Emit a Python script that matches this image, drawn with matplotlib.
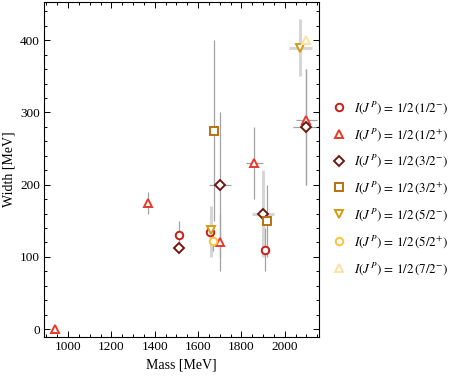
import matplotlib
matplotlib.use("Agg")
import matplotlib.pyplot as plt
from matplotlib.ticker import MultipleLocator

plt.rcParams['font.family'] = ['Liberation Serif', 'DejaVu Serif']
plt.rcParams['mathtext.fontset'] = 'stix'

# ---- data: (mass, width, width_lo, width_hi, mass_err) ----
labels = [r'$I(J^P)\,=\,1/2\,(1/2^{-})$', r'$I(J^P)\,=\,1/2\,(1/2^{+})$',
          r'$I(J^P)\,=\,1/2\,(3/2^{-})$', r'$I(J^P)\,=\,1/2\,(3/2^{+})$',
          r'$I(J^P)\,=\,1/2\,(5/2^{-})$', r'$I(J^P)\,=\,1/2\,(5/2^{+})$',
          r'$I(J^P)\,=\,1/2\,(7/2^{-})$']
colors = ['#c81e1a', '#e83a2c', '#6a1a10', '#b8720f', '#d49b12', '#fbc33c', '#fde2a6']
markers = ['o', '^', 'D', 's', 'v', 'o', '^']

mass = [[1510, 1655, 1910], [939, 1370, 1700, 1860, 2100], [1510, 1700, 1900, 2100],
        [1675, 1920], [1660, 2072], [1668], [2100]]
width = [[130, 135, 110], [0, 175, 120, 230, 290], [112, 200, 160, 280],
         [275, 150], [137, 389], [122], [400]]
w_lo = [[110, 125, 80], [0, 160, 80, 180, 200], [112, 100, 100, 200],
        [150, 100], [100, 350], [108], [400]]
w_hi = [[150, 150, 140], [0, 190, 160, 280, 360], [112, 300, 220, 360],
        [400, 200], [170, 430], [135], [400]]
m_err = [[0, 0, 0], [0, 0, 0, 40, 50], [0, 50, 50, 60],
         [0, 0], [0, 52], [0], [0]]
# error bars drawn in the light, wide style: (series, index)
light_bars = [(2, 2), (4, 0), (4, 1)]

fig = plt.figure(figsize=(4.58, 3.76), dpi=100)
ax = fig.add_axes([44/458, 39/376, 275/458, 335/376])

for s in range(len(mass)):
    for i in range(len(mass[s])):
        light = (s, i) in light_bars
        c = '#d6d6d6' if light else '#a3a3a3'
        lw = 2.2 if light else 0.9
        if w_hi[s][i] > w_lo[s][i]:
            ax.plot([mass[s][i], mass[s][i]], [w_lo[s][i], w_hi[s][i]],
                    color=c, lw=lw, zorder=1, solid_capstyle='butt')
        if m_err[s][i] > 0:
            ax.plot([mass[s][i] - m_err[s][i], mass[s][i] + m_err[s][i]],
                    [width[s][i], width[s][i]], color=c, lw=lw, zorder=1,
                    solid_capstyle='butt')

handles = []
for s in range(len(mass)):
    ms = 5.4 if markers[s] != 'D' else 4.6
    if markers[s] in ('^', 'v'):
        ms = 6.0
    h, = ax.plot(mass[s], width[s], linestyle='none', marker=markers[s], ms=ms,
                 mec=colors[s], mfc='white', mew=1.4, zorder=3 + s * 0.01,
                 label=labels[s])
    handles.append(h)

ax.set_xlim(889, 2158)
ax.set_ylim(-11, 453)
ax.xaxis.set_major_locator(MultipleLocator(200))
ax.xaxis.set_minor_locator(MultipleLocator(50))
ax.yaxis.set_major_locator(MultipleLocator(100))
ax.yaxis.set_minor_locator(MultipleLocator(20))
ax.tick_params(which='both', direction='in', top=True, right=True, labelsize=9.5,
               width=0.7, pad=3)
ax.tick_params(which='major', length=4)
ax.tick_params(which='minor', length=2)
for sp in ax.spines.values():
    sp.set_linewidth(0.8)
ax.set_xlabel('Mass [MeV]', fontsize=10, labelpad=4)
ax.set_ylabel('Width [MeV]', fontsize=10, labelpad=3)

fig.legend(handles=handles, loc='center left', bbox_to_anchor=(326/458, 0.5),
           frameon=False, fontsize=9.4, handlelength=1.0, handletextpad=0.65,
           labelspacing=0.78, borderpad=0.0)

fig.savefig('out.png', dpi=100)
